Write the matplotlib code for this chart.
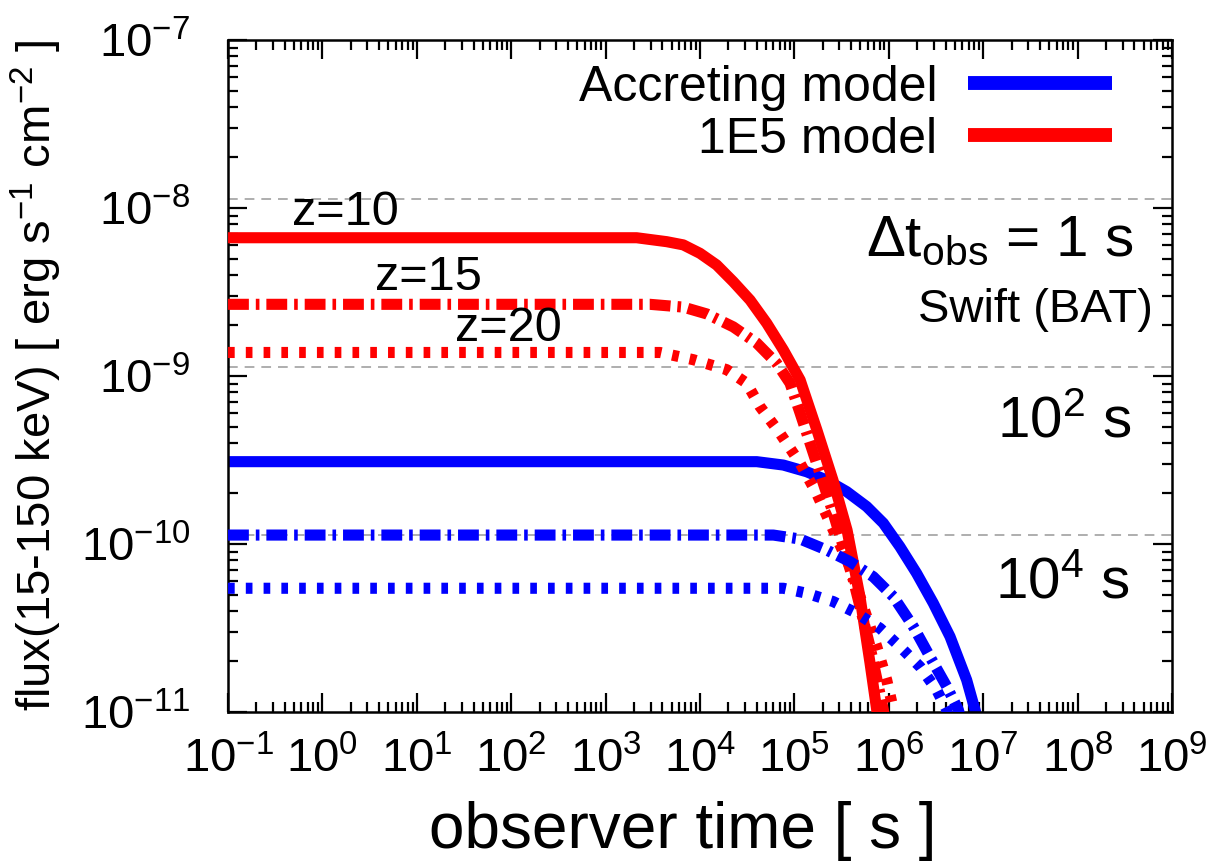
import matplotlib
matplotlib.use("Agg")
import matplotlib.pyplot as plt
from matplotlib import font_manager
from matplotlib.lines import Line2D
from matplotlib.ticker import LogLocator, NullFormatter

## Data (time in s, flux in erg/s/cm^2) ##
acc_z10_t = [1e-1, 3.99e4, 7.63e4, 1.35e5, 2.20e5, 3.58e5, 5.83e5, 8.75e5, 1.31e6, 1.97e6,
             2.96e6, 4.45e6, 6.68e6, 8.19e6, 9.3e6]
acc_z10_f = [3.09e-10, 3.09e-10, 2.95e-10, 2.69e-10, 2.40e-10, 2.05e-10, 1.67e-10, 1.33e-10,
             9.64e-11, 6.69e-11, 4.44e-11, 2.81e-11, 1.55e-11, 1.03e-11, 8.0e-12]

acc_z15_t = [1e-1, 5.98e4, 1.15e5, 2.20e5, 3.88e5, 6.85e5, 1.12e6, 1.82e6, 2.73e6, 4.10e6,
             5.45e6, 6.0e6]
acc_z15_f = [1.13e-10, 1.13e-10, 1.07e-10, 9.2e-11, 7.85e-11, 6.38e-11, 4.85e-11, 3.22e-11,
             2.13e-11, 1.42e-11, 1.03e-11, 8.5e-12]

acc_z20_t = [1e-1, 7.63e4, 1.35e5, 2.58e5, 4.57e5, 8.07e5, 1.31e6, 2.14e6, 3.22e6, 4.10e6, 4.4e6]
acc_z20_f = [5.45e-11, 5.45e-11, 5.09e-11, 4.54e-11, 3.87e-11, 3.15e-11, 2.45e-11, 1.86e-11,
             1.35e-11, 1.03e-11, 8.5e-12]

m1e5_z10_t = [1e-1, 2.13e3, 4.44e3, 6.65e3, 1.0e4, 1.50e4, 2.25e4, 3.39e4, 5.09e4, 7.63e4,
              1.15e5, 1.73e5, 2.56e5, 3.61e5, 4.95e5, 6.32e5, 7.5e5, 8.0e5]
m1e5_z10_f = [6.65e-9, 6.65e-9, 6.30e-9, 6.03e-9, 5.37e-9, 4.58e-9, 3.64e-9, 2.83e-9, 2.06e-9,
              1.43e-9, 9.46e-10, 4.77e-10, 2.40e-10, 1.21e-10, 4.84e-11, 1.96e-11, 1.0e-11, 8.0e-12]

m1e5_z15_t = [1e-1, 2.95e3, 6.65e3, 1.18e4, 2.25e4, 3.99e4, 6.49e4, 8.98e4, 1.15e5, 1.72e5,
              2.58e5, 4.21e5, 6.32e5, 8.75e5, 9.2e5]
m1e5_z15_f = [2.67e-9, 2.67e-9, 2.57e-9, 2.34e-9, 1.96e-9, 1.57e-9, 1.19e-9, 9.06e-10, 6.0e-10,
              3.02e-10, 1.52e-10, 6.1e-11, 2.45e-11, 1.03e-11, 8.5e-12]

m1e5_z20_t = [1e-1, 3.77e3, 8.49e3, 1.92e4, 3.12e4, 4.32e4, 7.03e4, 1.15e5, 1.72e5, 2.58e5,
              3.88e5, 5.37e5, 7.45e5, 9.5e5, 1.12e6, 1.15e6]
m1e5_z20_f = [1.38e-9, 1.38e-9, 1.25e-9, 1.09e-9, 9.06e-10, 6.57e-10, 4.56e-10, 3.02e-10, 2.0e-10,
              1.21e-10, 7.3e-11, 4.24e-11, 2.45e-11, 1.55e-11, 1.03e-11, 8.5e-12]

# Swift (BAT) sensitivity for 1 s, 10^2 s, 10^4 s
bat_limits = [1.13e-8, 1.13e-9, 1.13e-10]

legend_labels = ["Accreting model", "1E5 model"]
x_ticks = [10.0 ** e for e in range(-1, 10)]
y_ticks = [10.0 ** e for e in range(-11, -6)]

## Fonts ##
installed = {f.name for f in font_manager.fontManager.ttflist}
main_font = "Liberation Sans Narrow" if "Liberation Sans Narrow" in installed else "Liberation Sans"
plt.rcParams["font.family"] = [main_font, "DejaVu Sans"]
plt.rcParams["mathtext.fontset"] = "custom"
plt.rcParams["mathtext.rm"] = main_font
plt.rcParams["mathtext.it"] = main_font
plt.rcParams["mathtext.default"] = "regular"
plt.rcParams["lines.scale_dashes"] = False

BLUE = "#0000ff"
RED = "#ff0000"
LW = 8
dashdot = (0, (15, 5, 2.6, 5))
dotted = (0, (4.8, 8))

fig = plt.figure(figsize=(12.11, 8.67), dpi=100)
ax = fig.add_axes([0.1883, 0.1788, 0.7795, 0.7751])

## Threshold lines ##
for lim in bat_limits:
    ax.axhline(lim, color="#999999", lw=1.1, ls=(0, (7, 5)), zorder=1)

## Curves ##
ax.plot(acc_z10_t, acc_z10_f, color=BLUE, lw=LW, solid_capstyle="butt", zorder=2)
ax.plot(m1e5_z10_t, m1e5_z10_f, color=RED, lw=LW, solid_capstyle="butt", zorder=3)
ax.plot(m1e5_z15_t, m1e5_z15_f, color=RED, lw=LW, ls=dashdot, dash_capstyle="butt", zorder=3)
ax.plot(m1e5_z20_t, m1e5_z20_f, color=RED, lw=LW, ls=dotted, dash_capstyle="butt", zorder=3)
ax.plot(acc_z15_t, acc_z15_f, color=BLUE, lw=LW, ls=dashdot, dash_capstyle="butt", zorder=4)
ax.plot(acc_z20_t, acc_z20_f, color=BLUE, lw=LW, ls=dotted, dash_capstyle="butt", zorder=4)

## Axes ##
ax.set_xscale("log")
ax.set_yscale("log")
ax.set_xlim(1e-1, 1e9)
ax.set_ylim(1e-11, 1e-7)
ax.set_xticks(x_ticks)
ax.set_yticks(y_ticks)
ax.xaxis.set_minor_locator(LogLocator(base=10, subs=range(2, 10), numticks=20))
ax.yaxis.set_minor_locator(LogLocator(base=10, subs=range(2, 10), numticks=20))
ax.xaxis.set_minor_formatter(NullFormatter())
ax.yaxis.set_minor_formatter(NullFormatter())
ax.set_xlim(1e-1, 1e9)
ax.set_ylim(1e-11, 1e-7)
ax.tick_params(which="both", direction="in", top=True, right=True, width=1.6, labelsize=34)
ax.tick_params(which="major", length=14)
ax.tick_params(which="minor", length=7)
ax.tick_params(axis="x", which="major", pad=18)
ax.tick_params(axis="y", which="major", pad=27)
for sp in ax.spines.values():
    sp.set_linewidth(1.8)

ax.set_xlabel("observer time [ s ]", fontsize=46)
ax.xaxis.set_label_coords(0.482, -0.132)
ax.set_ylabel(r"flux(15-150 keV) [ erg s$^{-1}$ cm$^{-2}$ ]", fontsize=34, labelpad=12)

## Legend ##
handles = [Line2D([], [], color=BLUE, lw=10, solid_capstyle="butt"),
           Line2D([], [], color=RED, lw=10, solid_capstyle="butt")]
ax.legend(handles, legend_labels, loc="upper right", bbox_to_anchor=(0.936, 0.963),
          markerfirst=False, frameon=False, fontsize=36, handlelength=2.88,
          handletextpad=0.6, labelspacing=0.12, borderpad=0, borderaxespad=0)

## Annotations ##
ax.text(0.124, 0.744, "z=10", transform=ax.transAxes, fontsize=35, ha="center", va="center")
ax.text(0.212, 0.646, "z=15", transform=ax.transAxes, fontsize=35, ha="center", va="center")
ax.text(0.297, 0.571, "z=20", transform=ax.transAxes, fontsize=35, ha="center", va="center")
ax.text(0.959, 0.679, r"$\Delta$t$_{obs}$ = 1 s", transform=ax.transAxes, fontsize=42,
        ha="right", va="baseline")
ax.text(0.980, 0.580, "Swift (BAT)", transform=ax.transAxes, fontsize=34, ha="right", va="baseline")
ax.text(0.958, 0.409, r"10$^{2}$ s", transform=ax.transAxes, fontsize=42, ha="right", va="baseline")
ax.text(0.956, 0.170, r"10$^{4}$ s", transform=ax.transAxes, fontsize=42, ha="right", va="baseline")

plt.savefig("out.png", dpi=100)
